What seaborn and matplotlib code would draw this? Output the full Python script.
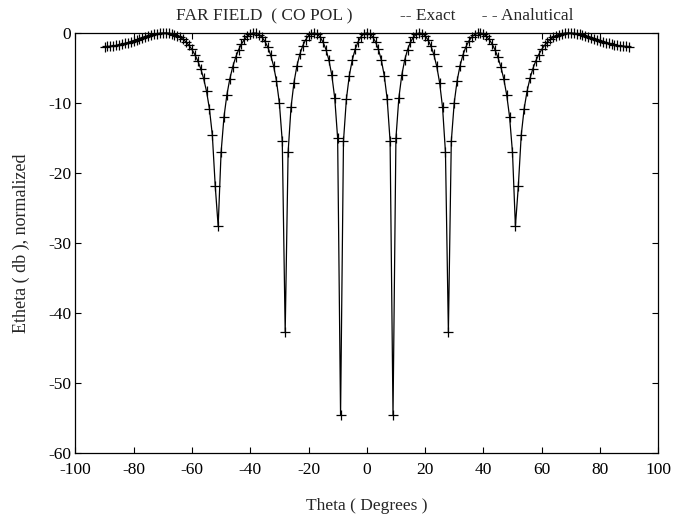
"""
Far field (co-pol) pattern, normalized Etheta in dB vs theta.
"""

import matplotlib
matplotlib.use("Agg")
import matplotlib.pyplot as plt
import seaborn as sns
import pandas as pd

# sampling grid, 1 degree steps
theta_deg = list(range(-90, 91))

# Etheta (dB), normalized
etheta_db = [
    -1.94, -1.93, -1.90, -1.85, -1.79, -1.70, -1.60, -1.49, -1.37, -1.23,
    -1.09, -0.95, -0.81, -0.66, -0.53, -0.40, -0.28, -0.18, -0.10, -0.04,
    -0.01, -0.00, -0.03, -0.11, -0.22, -0.40, -0.63, -0.92, -1.30, -1.78,
    -2.36, -3.09, -3.98, -5.09, -6.49, -8.32, -10.82, -14.59, -21.89, -27.6,
    -17.06, -11.97, -8.81, -6.55, -4.83, -3.48, -2.41, -1.57, -0.93, -0.46,
    -0.16, -0.01, -0.03, -0.22, -0.59, -1.17, -2.00, -3.13, -4.68, -6.82,
    -9.99, -15.48, -42.7, -17.04, -10.63, -7.11, -4.75, -3.07, -1.85, -0.98,
    -0.40, -0.08, -0.01, -0.17, -0.60, -1.31, -2.37, -3.88, -6.04, -9.29,
    -15.05, -54.6, -15.46, -9.45, -6.10, -3.89, -2.35, -1.27, -0.55, -0.13,
    0.00,
    -0.13, -0.55, -1.27, -2.35, -3.89, -6.10, -9.45, -15.46, -54.6, -15.05,
    -9.29, -6.04, -3.88, -2.37, -1.31, -0.60, -0.17, -0.01, -0.08, -0.40,
    -0.98, -1.85, -3.07, -4.75, -7.11, -10.63, -17.04, -42.7, -15.48, -9.99,
    -6.82, -4.68, -3.13, -2.00, -1.17, -0.59, -0.22, -0.03, -0.01, -0.16,
    -0.46, -0.93, -1.57, -2.41, -3.48, -4.83, -6.55, -8.81, -11.97, -17.06,
    -27.6, -21.89, -14.59, -10.82, -8.32, -6.49, -5.09, -3.98, -3.09, -2.36,
    -1.78, -1.30, -0.92, -0.63, -0.40, -0.22, -0.11, -0.03, -0.00, -0.01,
    -0.04, -0.10, -0.18, -0.28, -0.40, -0.53, -0.66, -0.81, -0.95, -1.09,
    -1.23, -1.37, -1.49, -1.60, -1.70, -1.79, -1.85, -1.90, -1.93, -1.94,
]

x_ticks = [-100, -80, -60, -40, -20, 0, 20, 40, 60, 80, 100]
y_ticks = [-60, -50, -40, -30, -20, -10, 0]

sns.set_style("ticks")
plt.rcParams['font.family'] = ['Liberation Serif', 'DejaVu Serif']
plt.rcParams['font.size'] = 12.5
plt.rcParams['axes.unicode_minus'] = False

df = pd.DataFrame({'theta': theta_deg, 'etheta': etheta_db})

fig = plt.figure(figsize=(6.73, 5.15), dpi=100)
ax = fig.add_axes([0.112, 0.120, 0.866, 0.816])

sns.lineplot(data=df, x='theta', y='etheta', color='black', linewidth=0.9,
             marker='+', markersize=6.5, markeredgewidth=0.9,
             markeredgecolor='black', clip_on=False, ax=ax, legend=False)

ax.set_xlim(-100, 100)
ax.set_ylim(-60, 0)
ax.set_xticks(x_ticks)
ax.set_yticks(y_ticks)
ax.tick_params(direction='in', length=4, width=0.8, top=True, right=True,
               labelsize=12.5, colors='black')
ax.tick_params(axis='x', pad=6)
ax.tick_params(axis='y', pad=3)
for side in ['top', 'right', 'bottom', 'left']:
    ax.spines[side].set_visible(True)
    ax.spines[side].set_color('black')
    ax.spines[side].set_linewidth(0.9)

ax.set_xlabel('Theta ( Degrees )', fontsize=12.5, labelpad=15)
ax.set_ylabel('Etheta ( db ), normalized', fontsize=13, labelpad=13)

ax.text(0.172, 1.031, 'FAR FIELD  ( CO POL )', transform=ax.transAxes,
        ha='left', va='baseline', fontsize=12.5)
ax.text(0.557, 1.031, '-- Exact      - - Analutical', transform=ax.transAxes,
        ha='left', va='baseline', fontsize=12.5)

plt.savefig('out.png', dpi=100)
plt.close()
